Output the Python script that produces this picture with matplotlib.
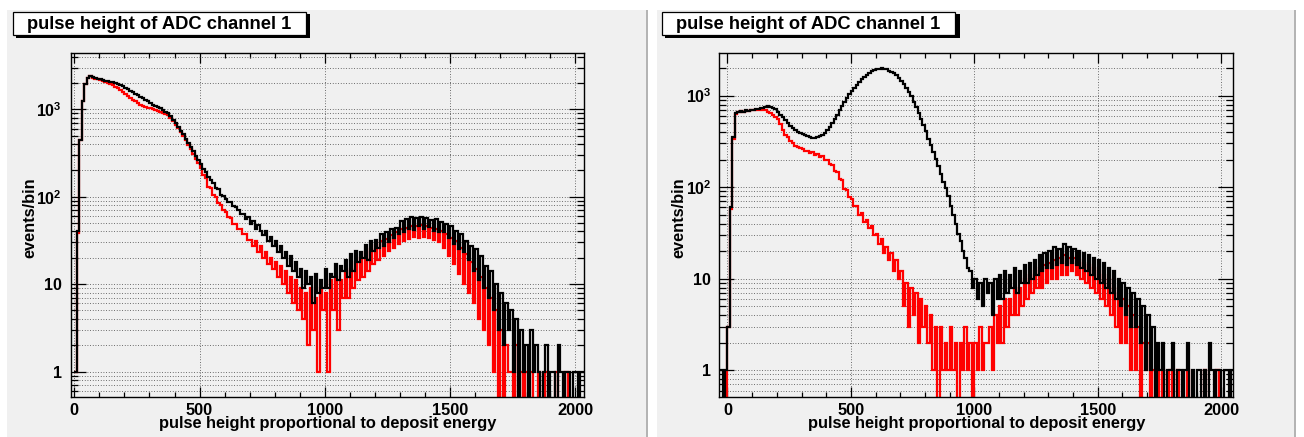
import numpy as np
import matplotlib
matplotlib.use("Agg")
import matplotlib.pyplot as plt
from matplotlib.patches import Rectangle
from matplotlib.ticker import FixedLocator, FixedFormatter, NullFormatter, MultipleLocator

plt.rcParams['font.family'] = ['Liberation Sans', 'DejaVu Sans']
plt.rcParams['mathtext.fontset'] = 'custom'
plt.rcParams['mathtext.rm'] = 'Liberation Sans:bold'
plt.rcParams['mathtext.bf'] = 'Liberation Sans:bold'

# ---------------- data (events per bin, 10-unit bins) ----------------
bin_width = 10

left_start = 0
left_black = [
    1, 40, 450, 1250, 1950, 2300, 2400, 2320, 2260, 2230,
    2200, 2150, 2120, 2100, 2060, 2030, 1990, 1950, 1900, 1830,
    1760, 1690, 1620, 1560, 1500, 1450, 1390, 1330, 1280, 1230,
    1170, 1130, 1090, 1060, 1020, 985, 940, 900, 830, 760,
    690, 630, 570, 515, 460, 410, 370, 335, 295, 262,
    238, 208, 192, 170, 155, 142, 126, 121, 104, 103,
    95, 88, 86, 78, 76, 71, 64, 63, 56, 58,
    49, 53, 43, 47, 40, 36, 40, 31, 35, 27,
    31, 23, 27, 20, 23, 16, 21, 14, 18, 12,
    15, 9, 14, 10, 12, 6, 13, 8, 11, 9,
    15, 9, 13, 12, 17, 11, 16, 14, 19, 12,
    22, 14, 24, 18, 23, 20, 28, 19, 31, 24,
    32, 26, 37, 27, 39, 30, 43, 34, 44, 37,
    53, 39, 55, 43, 58, 42, 57, 46, 59, 43,
    57, 45, 54, 41, 55, 39, 51, 39, 49, 34,
    46, 29, 41, 25, 37, 23, 31, 19, 27, 14,
    25, 11, 21, 9, 16, 7, 14, 5, 10, 3,
    8, 2, 6, 3, 5, 1, 4, 0, 3, 1,
    2, 0, 3, 1, 2, 1, 0, 1, 2, 0,
    1, 1, 0, 2, 1, 0, 1, 1, 0, 1,
    1, 0, 1, 1,
]
left_red = [
    1, 38, 440, 1230, 1930, 2280, 2380, 2300, 2240, 2200,
    2160, 2100, 2060, 2010, 1950, 1880, 1800, 1730, 1660, 1590,
    1510, 1430, 1360, 1290, 1230, 1170, 1130, 1090, 1060, 1040,
    1020, 1000, 980, 960, 940, 915, 885, 850, 790, 730,
    665, 605, 545, 495, 440, 395, 350, 310, 272, 240,
    212, 176, 162, 128, 126, 104, 99, 84, 81, 71,
    67, 59, 57, 49, 49, 43, 43, 37, 37, 32,
    32, 27, 31, 23, 27, 20, 23, 17, 20, 15,
    18, 12, 16, 10, 14, 8, 12, 6, 11, 5,
    9, 4, 8, 2, 9, 3, 7, 1, 9, 5,
    8, 1, 11, 5, 12, 3, 11, 7, 14, 7,
    15, 9, 18, 11, 20, 12, 23, 14, 25, 17,
    28, 19, 31, 21, 33, 24, 36, 26, 39, 29,
    43, 31, 44, 33, 46, 35, 46, 34, 47, 35,
    46, 34, 44, 32, 43, 30, 40, 26, 37, 21,
    34, 17, 31, 13, 26, 10, 22, 8, 18, 6,
    15, 4, 12, 3, 9, 2, 7, 1, 5, 0,
    3, 0, 2, 1, 1, 0, 2, 0, 1, 0,
    1, 0, 1, 0, 0, 1, 0, 0, 1, 0,
    0, 0, 1, 0, 0, 0, 1, 0, 0, 0,
    0, 0, 0, 0,
]

right_start = -30
right_black = [
    1, 0, 1,
    3, 60, 350, 640, 670, 680, 670, 690, 680, 700,
    700, 710, 720, 740, 730, 760, 770, 760, 740, 720,
    670, 620, 580, 540, 500, 470, 445, 420, 405, 390,
    380, 372, 362, 355, 345, 342, 350, 360, 375, 395,
    420, 450, 500, 560, 620, 690, 770, 850, 940, 1030,
    1120, 1220, 1320, 1420, 1520, 1610, 1700, 1780, 1850, 1900,
    1940, 1970, 1980, 1970, 1930, 1880, 1820, 1750, 1660, 1560,
    1450, 1340, 1220, 1100, 980, 860, 750, 650, 560, 480,
    410, 340, 290, 245, 205, 170, 140, 115, 98, 80,
    62, 50, 40, 31, 26, 20, 17, 13, 12, 8,
    10, 6, 9, 5, 10, 7, 9, 4, 10, 6,
    11, 6, 12, 7, 11, 8, 13, 7, 12, 9,
    14, 9, 15, 10, 16, 11, 18, 12, 19, 13,
    20, 13, 22, 14, 21, 15, 24, 14, 22, 15,
    21, 14, 20, 13, 19, 12, 18, 11, 17, 10,
    16, 9, 15, 8, 13, 7, 12, 6, 10, 5,
    9, 4, 8, 3, 7, 3, 6, 2, 5, 1,
    4, 1, 3, 0, 2, 1, 2, 0, 1, 1,
    2, 0, 1, 1, 0, 1, 2, 0, 1, 0,
    1, 1, 0, 1, 0, 2, 1, 0, 1, 1,
    0, 1, 1, 0, 1,
]
right_red = [
    0, 0, 0,
    3, 58, 340, 630, 665, 675, 665, 685, 675, 690,
    690, 700, 705, 710, 700, 690, 670, 640, 610, 585,
    560, 490, 420, 370, 350, 320, 300, 285, 275, 265,
    262, 246, 250, 236, 240, 224, 230, 216, 220, 200,
    198, 180, 176, 150, 146, 124, 120, 96, 92, 78,
    74, 62, 62, 50, 52, 42, 44, 36, 38, 30,
    31, 24, 27, 19, 22, 16, 19, 12, 16, 10,
    12, 5, 9, 3, 8, 4, 7, 2, 6, 3,
    5, 2, 4, 1, 3, 0, 3, 1, 2, 1,
    3, 1, 2, 0, 2, 1, 3, 1, 2, 0,
    2, 1, 3, 1, 2, 2, 3, 1, 4, 2,
    5, 2, 6, 3, 6, 4, 8, 4, 8, 5,
    10, 6, 11, 7, 12, 8, 13, 8, 14, 9,
    15, 10, 16, 10, 17, 11, 18, 11, 17, 12,
    17, 11, 16, 10, 15, 9, 14, 8, 13, 7,
    12, 6, 11, 5, 10, 4, 8, 3, 7, 2,
    6, 2, 5, 1, 4, 1, 3, 0, 2, 1,
    2, 0, 1, 0, 1, 0, 1, 0, 0, 1,
    0, 0, 1, 0, 0, 0, 1, 0, 0, 0,
    0, 0, 0, 1, 0, 0, 0, 0, 1, 0,
    0, 0, 0, 0, 0,
]

title_text = "pulse height of ADC channel 1"
x_title = "pulse height proportional to deposit energy"
y_title = "events/bin"
x_ticks = [0, 500, 1000, 1500, 2000]
y_ticks = [1, 10, 100, 1000]
y_tick_labels = ["1", "10", r"$\mathbf{10^{2}}$", r"$\mathbf{10^{3}}$"]

# ---------------- layout helpers (pixel units, origin top-left) ----------------
W, H = 1304, 437
fig = plt.figure(figsize=(W / 100, H / 100), dpi=100)
fig.patch.set_facecolor("white")


def frect(x0, y0, x1, y1):
    return [x0 / W, 1 - y1 / H, (x1 - x0) / W, (y1 - y0) / H]


def fx(x):
    return x / W


def fy(y):
    return 1 - y / H


PAD_BG = "#f0f0f0"


def draw_pad(x0, x1):
    bg = Rectangle((fx(x0), fy(H)), fx(x1 - x0), (H - 10) / H,
                   transform=fig.transFigure, facecolor=PAD_BG,
                   edgecolor="none", zorder=-10)
    edge = Rectangle((fx(x1 - 2), fy(H)), fx(2), (H - 10) / H,
                     transform=fig.transFigure, facecolor="#b4b4b4",
                     edgecolor="none", zorder=-9)
    fig.patches.extend([bg, edge])


def draw_title_box(x0, y0, x1, y1):
    shadow = Rectangle((fx(x0 + 3), fy(y1 + 2.5)), fx(x1 - x0 + 1.5), (y1 - y0) / H,
                       transform=fig.transFigure, facecolor="black",
                       edgecolor="none", zorder=5)
    box = Rectangle((fx(x0), fy(y1)), fx(x1 - x0), (y1 - y0) / H,
                    transform=fig.transFigure, facecolor="white",
                    edgecolor="black", linewidth=0.9, zorder=6)
    fig.patches.extend([shadow, box])
    fig.text(fx((x0 + x1) / 2), fy(29.3), title_text, ha="center",
             va="baseline", fontsize=13.2, fontweight="bold", zorder=7)


def draw_panel(rect_px, xlim, ylim, black, red, start, ylab_pad,
               xt_center, yt_x):
    x0, y0, x1, y1 = rect_px
    ax = fig.add_axes(frect(x0, y0, x1, y1))
    ax.set_facecolor("none")
    ax.set_yscale("log")
    edges = start + bin_width * np.arange(len(black) + 1)
    ax.stairs(red, edges, color="#ff0000", linewidth=1.6, baseline=None,
              zorder=3, joinstyle="miter")
    ax.stairs(black, edges, color="black", linewidth=1.6, baseline=None,
              zorder=4, joinstyle="miter")
    ax.set_xlim(*xlim)
    ax.set_ylim(*ylim)

    ax.xaxis.set_major_locator(FixedLocator(x_ticks))
    ax.xaxis.set_minor_locator(MultipleLocator(100))
    ax.yaxis.set_major_locator(FixedLocator(y_ticks))
    ax.yaxis.set_major_formatter(FixedFormatter(y_tick_labels))
    minor_y = [m * 10 ** e for e in range(-1, 4) for m in range(2, 10)]
    ax.yaxis.set_minor_locator(FixedLocator(minor_y))
    ax.yaxis.set_minor_formatter(NullFormatter())

    ax.tick_params(which="both", direction="in", top=True, right=True,
                   width=0.9, color="black")
    ax.tick_params(axis="x", which="major", length=7.2, pad=4.5,
                   labelsize=11.8)
    ax.tick_params(axis="x", which="minor", length=3.6)
    ax.tick_params(axis="y", which="major", length=11.0, pad=ylab_pad,
                   labelsize=11.5)
    ax.tick_params(axis="y", which="minor", length=5.0)
    for lab in ax.get_xticklabels() + ax.get_yticklabels():
        lab.set_fontweight("bold")

    grid_style = dict(color="#404040", linestyle=(0, (1, 2.2)), linewidth=0.6)
    ax.grid(True, axis="x", which="major", **grid_style)
    ax.grid(True, axis="y", which="both", **grid_style)
    ax.set_axisbelow(True)
    for sp in ax.spines.values():
        sp.set_linewidth(1.0)
        sp.set_color("black")
        sp.set_zorder(6)

    fig.text(fx(xt_center), fy(428), x_title, ha="center", va="baseline",
             fontsize=11.8, fontweight="bold")
    fig.text(fx(yt_x), fy(218), y_title, ha="center", va="center",
             rotation=90, fontsize=11.8, fontweight="bold")
    return ax


draw_pad(7, 648)
draw_pad(657, 1296)

draw_panel((71, 53, 584, 397), (-13, 2034), (0.511, 4400),
           left_black, left_red, left_start, 6.8, 327.5, 30)
draw_panel((719.3, 52.7, 1233.3, 397), (-33, 2049), (0.51, 2945),
           right_black, right_red, right_start, 5.8, 976.3, 679)

draw_title_box(12.7, 11.7, 306, 35)
draw_title_box(661.7, 11.7, 955, 35)

fig.savefig("out.png", dpi=100, facecolor=fig.get_facecolor())
